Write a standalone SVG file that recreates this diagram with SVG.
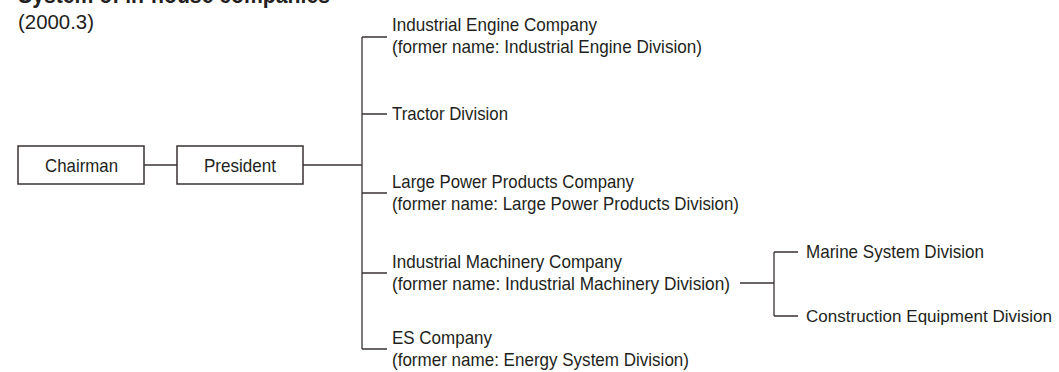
<svg xmlns="http://www.w3.org/2000/svg" width="1059" height="372" viewBox="0 0 1059 372">
<style>
text{font-family:"Liberation Sans",Arial,sans-serif;font-size:19px;fill:#231f20}
.title{font-weight:bold;font-size:23px}
.date{font-size:21px}
.box{fill:#fff;stroke:#3a3233;stroke-width:1.5}
.c{stroke:#3a3233;stroke-width:1.3;fill:none}
</style>
<rect width="1059" height="372" fill="#fff"/>
<text class="title" x="18" y="3" textLength="312" lengthAdjust="spacingAndGlyphs">System of in-house companies</text>
<text class="date" x="18" y="29" textLength="76" lengthAdjust="spacingAndGlyphs">(2000.3)</text>
<g id="connectors">
<path class="c" d="M144 165H177M303 165H362M362 37V349M362 37H387M362 114H387M362 193H387M362 273H387M362 349H387"/>
<path class="c" d="M740 283H774M774 252V316M774 252H798M774 316H798"/>
</g>
<g id="chairman"><rect class="box" x="18" y="146" width="126" height="38"/><text x="45" y="172" textLength="73" lengthAdjust="spacingAndGlyphs">Chairman</text></g>
<g id="president"><rect class="box" x="177" y="146" width="126" height="38"/><text x="204" y="172" textLength="72" lengthAdjust="spacingAndGlyphs">President</text></g>
<g id="industrial-engine"><text x="392" y="31" textLength="205" lengthAdjust="spacingAndGlyphs">Industrial Engine Company</text><text x="392" y="53" textLength="310" lengthAdjust="spacingAndGlyphs">(former name: Industrial Engine Division)</text></g>
<g id="tractor"><text x="392" y="120" textLength="116" lengthAdjust="spacingAndGlyphs">Tractor Division</text></g>
<g id="large-power"><text x="392" y="188" textLength="242" lengthAdjust="spacingAndGlyphs">Large Power Products Company</text><text x="392" y="210" textLength="347" lengthAdjust="spacingAndGlyphs">(former name: Large Power Products Division)</text></g>
<g id="industrial-machinery"><text x="392" y="268" textLength="230" lengthAdjust="spacingAndGlyphs">Industrial Machinery Company</text><text x="392" y="290" textLength="338" lengthAdjust="spacingAndGlyphs">(former name: Industrial Machinery Division)</text></g>
<g id="es"><text x="392" y="344" textLength="100" lengthAdjust="spacingAndGlyphs">ES Company</text><text x="392" y="366" textLength="297" lengthAdjust="spacingAndGlyphs">(former name: Energy System Division)</text></g>
<g id="marine"><text x="806" y="258" textLength="178" lengthAdjust="spacingAndGlyphs">Marine System Division</text></g>
<g id="construction"><text x="806" y="322" style="font-size:17.4px" textLength="246" lengthAdjust="spacingAndGlyphs">Construction Equipment Division</text></g>
</svg>
